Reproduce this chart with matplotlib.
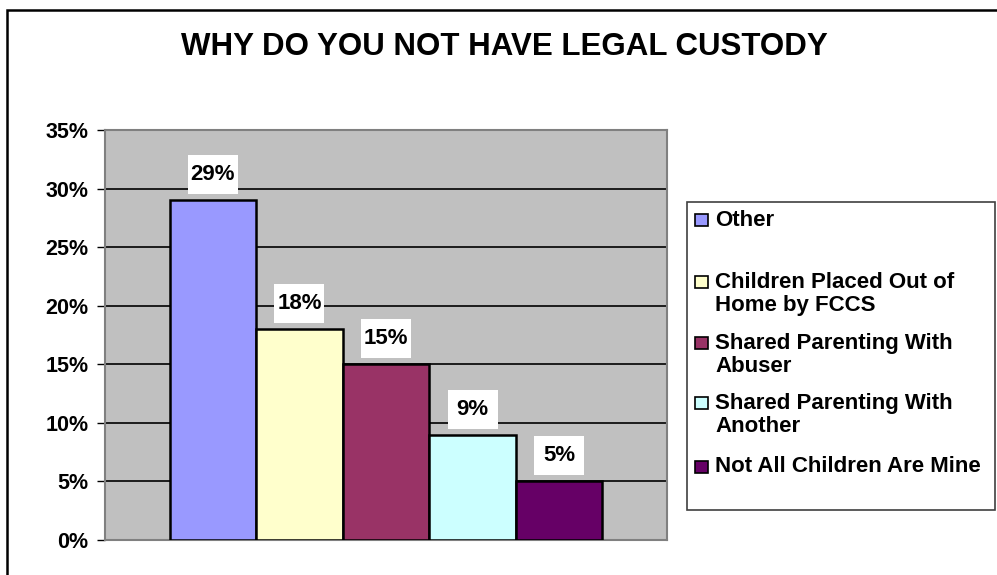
import matplotlib.pyplot as plt
from matplotlib.patches import Rectangle
from matplotlib.ticker import FuncFormatter, MultipleLocator
from matplotlib.transforms import ScaledTranslation

plt.rcParams["font.family"] = ["Liberation Sans", "DejaVu Sans"]
plt.rcParams["font.weight"] = "bold"

categories = [
    "Other",
    "Children Placed Out of\nHome by FCCS",
    "Shared Parenting With\nAbuser",
    "Shared Parenting With\nAnother",
    "Not All Children Are Mine",
]
values = [29, 18, 15, 9, 5]
colors = ["#9999FF", "#FFFFCC", "#993366", "#CCFFFF", "#660066"]

W, H = 997, 575
fig = plt.figure(figsize=(W / 100, H / 100), dpi=100)


def fx(px):
    return px / W


def fy(py):
    return 1 - py / H


# outer chart frame
fig.patches.append(Rectangle((fx(7), fy(600)), fx(1000), fy(10) - fy(600),
                             transform=fig.transFigure, fill=False,
                             edgecolor="black", lw=1.8))

fig.text(fx(504), fy(47), "WHY DO YOU NOT HAVE LEGAL CUSTODY",
         ha="center", va="center", fontsize=22.5, fontweight="bold")

ax = fig.add_axes([fx(105), fy(540), fx(667) - fx(105), fy(130) - fy(540)])
ax.set_facecolor("#C0C0C0")

bw = 0.154
n = len(values)
xs = [(i - (n - 1) / 2) * bw for i in range(n)]
ax.bar(xs, values, width=bw, color=colors, edgecolor="black", linewidth=1.8,
       zorder=3)

# value labels on white boxes just above each bar (sizes in inches)
for x, v in zip(xs, values):
    anchor = fig.dpi_scale_trans + ScaledTranslation(x, v, ax.transData)
    ax.add_patch(Rectangle((-0.25, 0.06), 0.5, 0.39, transform=anchor,
                           facecolor="white", edgecolor="none", zorder=4))
    ax.annotate(f"{v}%", (x, v), xytext=(0, 18.4), textcoords="offset points",
                ha="center", va="center", fontsize=16, fontweight="bold",
                zorder=5)

ax.set_xlim(-0.5, 0.5)
ax.set_ylim(0, 35)
ax.yaxis.set_major_locator(MultipleLocator(5))
ax.yaxis.set_major_formatter(FuncFormatter(lambda y, _: f"{int(y)}%"))
ax.yaxis.grid(True, color="black", lw=1.2, zorder=1)
ax.set_axisbelow(True)
ax.set_xticks([])
ax.tick_params(axis="y", length=6, width=1, labelsize=15.5, pad=6)
for lab in ax.get_yticklabels():
    lab.set_fontweight("bold")
for side in ["left", "right", "top", "bottom"]:
    ax.spines[side].set_color("#808080")
    ax.spines[side].set_linewidth(1.5)

# legend box drawn by hand
fig.patches.append(Rectangle((fx(687), fy(510)), fx(995) - fx(687), fy(202) - fy(510),
                             transform=fig.transFigure, facecolor="white",
                             edgecolor="#404040", lw=1.2))
row_y = [220, 282, 343, 403, 467]
for label, c, y in zip(categories, colors, row_y):
    fig.patches.append(Rectangle((fx(695), fy(y + 6)), fx(13), fy(0) - fy(12),
                                 transform=fig.transFigure, facecolor=c,
                                 edgecolor="black", lw=1.2))
    for k, line in enumerate(label.split("\n")):
        fig.text(fx(715), fy(y + 23 * k), line, ha="left", va="center",
                 fontsize=16, fontweight="bold")

fig.savefig("out.png", dpi=100)
